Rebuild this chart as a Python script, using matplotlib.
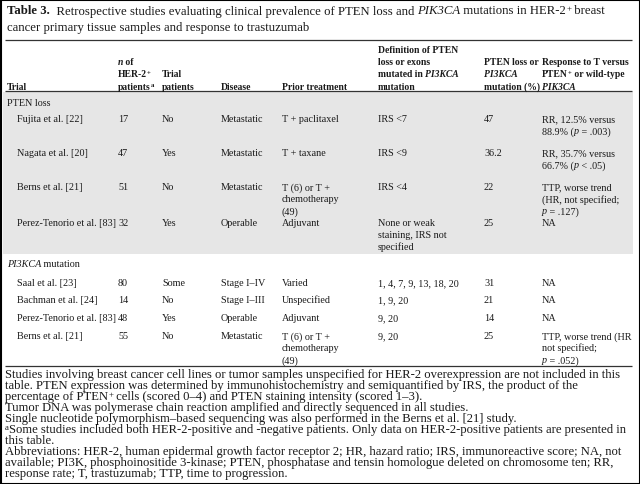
import re
import matplotlib
matplotlib.use("Agg")
import matplotlib.pyplot as plt
from matplotlib.patches import Rectangle
from matplotlib.font_manager import FontProperties

plt.rcParams["font.family"] = ["Liberation Serif", "DejaVu Serif"]

# Текст таблиці (*...* - курсив, ^...^ - верхній індекс)
title_lines = [
    "**Table 3.**  Retrospective studies evaluating clinical prevalence of PTEN loss and "
    "*PIK3CA* mutations in HER-2^+^ breast",
    "cancer primary tissue samples and response to trastuzumab",
]

header = [
    ["Trial"],
    ["*n* of", "HER-2^+^", "patients^a^"],
    ["Trial", "patients"],
    ["Disease"],
    ["Prior treatment"],
    ["Definition of PTEN", "loss or exons", "mutated in *PI3KCA*", "mutation"],
    ["PTEN loss or", "*PI3KCA*", "mutation (%)"],
    ["Response to T versus", "PTEN^+^ or wild-type", "*PIK3CA*"],
]

sections = ["PTEN loss", "*PI3KCA* mutation"]

# PTEN loss
pten_trial = ["Fujita et al. [22]", "Nagata et al. [20]", "Berns et al. [21]",
              "Perez-Tenorio et al. [83]"]
pten_n = ["17", "47", "51", "32"]
pten_trial_pat = ["No", "Yes", "No", "Yes"]
pten_disease = ["Metastatic", "Metastatic", "Metastatic", "Operable"]
pten_prior = [["T + paclitaxel"], ["T + taxane"],
              ["T (6) or T +", "chemotherapy", "(49)"], ["Adjuvant"]]
pten_def = [["IRS <7"], ["IRS <9"], ["IRS <4"],
            ["None or weak", "staining, IRS not", "specified"]]
pten_pct = ["47", "36.2", "22", "25"]
pten_resp = [["RR, 12.5% versus", "88.9% (*p* = .003)"],
             ["RR, 35.7% versus", "66.7% (*p* < .05)"],
             ["TTP, worse trend", "(HR, not specified;", "*p* = .127)"],
             ["NA"]]

# PI3KCA mutation
pik_trial = ["Saal et al. [23]", "Bachman et al. [24]", "Perez-Tenorio et al. [83]",
             "Berns et al. [21]"]
pik_n = ["80", "14", "48", "55"]
pik_trial_pat = ["Some", "No", "Yes", "No"]
pik_disease = ["Stage I–IV", "Stage I–III", "Operable", "Metastatic"]
pik_prior = [["Varied"], ["Unspecified"], ["Adjuvant"],
             ["T (6) or T +", "chemotherapy", "(49)"]]
pik_def = [["1, 4, 7, 9, 13, 18, 20"], ["1, 9, 20"], ["9, 20"], ["9, 20"]]
pik_pct = ["31", "21", "14", "25"]
pik_resp = [["NA"], ["NA"], ["NA"],
            ["TTP, worse trend (HR", "not specified;", "*p* = .052)"]]

notes = [
    "Studies involving breast cancer cell lines or tumor samples unspecified for HER-2 overexpression are not included in this",
    "table. PTEN expression was determined by immunohistochemistry and semiquantified by IRS, the product of the",
    "percentage of PTEN^+^ cells (scored 0–4) and PTEN staining intensity (scored 1–3).",
    "Tumor DNA was polymerase chain reaction amplified and directly sequenced in all studies.",
    "Single nucleotide polymorphism–based sequencing was also performed in the Berns et al. [21] study.",
    "^a^Some studies included both HER-2-positive and -negative patients. Only data on HER-2-positive patients are presented in",
    "this table.",
    "Abbreviations: HER-2, human epidermal growth factor receptor 2; HR, hazard ratio; IRS, immunoreactive score; NA, not",
    "available; PI3K, phosphoinositide 3-kinase; PTEN, phosphatase and tensin homologue deleted on chromosome ten; RR,",
    "response rate; T, trastuzumab; TTP, time to progression.",
]

# Розмітка (пікселі)
W, H = 640, 485
col_x = [17, 118, 162, 221, 282, 378, 484, 542]
lh = 12.0
fs_body = 7.3
fs_head = 6.9
fs_title = 9.2
fs_note = 9.1
ink = "#1a1a1a"

fig = plt.figure(figsize=(W / 100, H / 100), dpi=100)
ax = fig.add_axes([0, 0, 1, 1])
ax.set_xlim(0, W)
ax.set_ylim(H, 0)
ax.axis("off")
renderer = fig.canvas.get_renderer()


def text_w(s, prop):
    # ширина в пікселях, з урахуванням пробілів на кінцях
    w1, _, _ = renderer.get_text_width_height_descent(s + "|", prop, ismath=False)
    w2, _, _ = renderer.get_text_width_height_descent("|", prop, ismath=False)
    return w1 - w2


def put(x, y, s, size, bold=False):
    # y - центр рядка; малюємо по шматках
    base = y + 3.5
    parts = re.split(r"(\*\*[^*]+\*\*|\*[^*]+\*|\^[^^]+\^)", s)
    for p in parts:
        if not p:
            continue
        weight = "bold" if bold else "normal"
        style = "normal"
        fsz = size
        dy = 0
        if p.startswith("**"):
            p = p[2:-2]
            weight = "bold"
        elif p.startswith("*"):
            p = p[1:-1]
            style = "italic"
        elif p.startswith("^"):
            p = p[1:-1]
            fsz = size * 0.7
            dy = -size * 0.38
        prop = FontProperties(family="Liberation Serif", size=fsz,
                              weight=weight, style=style)
        ax.text(x, base + dy, p, va="baseline", ha="left", color=ink,
                fontproperties=prop)
        x += text_w(p, prop)


def hrule(y, lw=0.9):
    ax.plot([5, 632], [y, y], color="#333333", lw=lw, solid_capstyle="butt")


# рамка і сіре тло
ax.add_patch(Rectangle((0.5, 0.5), W - 1, H - 1, fill=False, ec="black", lw=1.5))
ax.add_patch(Rectangle((3, 93), 630, 162, fc="#e6e6e6", ec="none"))

for i, s in enumerate(title_lines):
    put(7, 11 + 16 * i, s, fs_title)
hrule(41)

# заголовок, вирівняний по низу
head_bottom = 86
for j, cell in enumerate(header):
    x = 7 if j == 0 else col_x[j]
    for k, s in enumerate(reversed(cell)):
        put(x, head_bottom - k * 12.3, s, fs_head, bold=True)
hrule(92)


def draw_block(y_label, label, row_y, cols):
    put(7, y_label, label, fs_body)
    for r, y in enumerate(row_y):
        for j, col in enumerate(cols):
            cell = col[r] if isinstance(col[r], list) else [col[r]]
            for k, s in enumerate(cell):
                put(col_x[j], y + k * lh, s, fs_body)


draw_block(102, sections[0], [119, 153, 187, 223],
           [pten_trial, pten_n, pten_trial_pat, pten_disease,
            pten_prior, pten_def, pten_pct, pten_resp])
draw_block(264, sections[1], [283, 300, 318, 336],
           [pik_trial, pik_n, pik_trial_pat, pik_disease,
            pik_prior, pik_def, pik_pct, pik_resp])
hrule(367)

for i, s in enumerate(notes):
    put(5, 375 + 10.95 * i, s, fs_note)

fig.savefig("out.png", dpi=100)
